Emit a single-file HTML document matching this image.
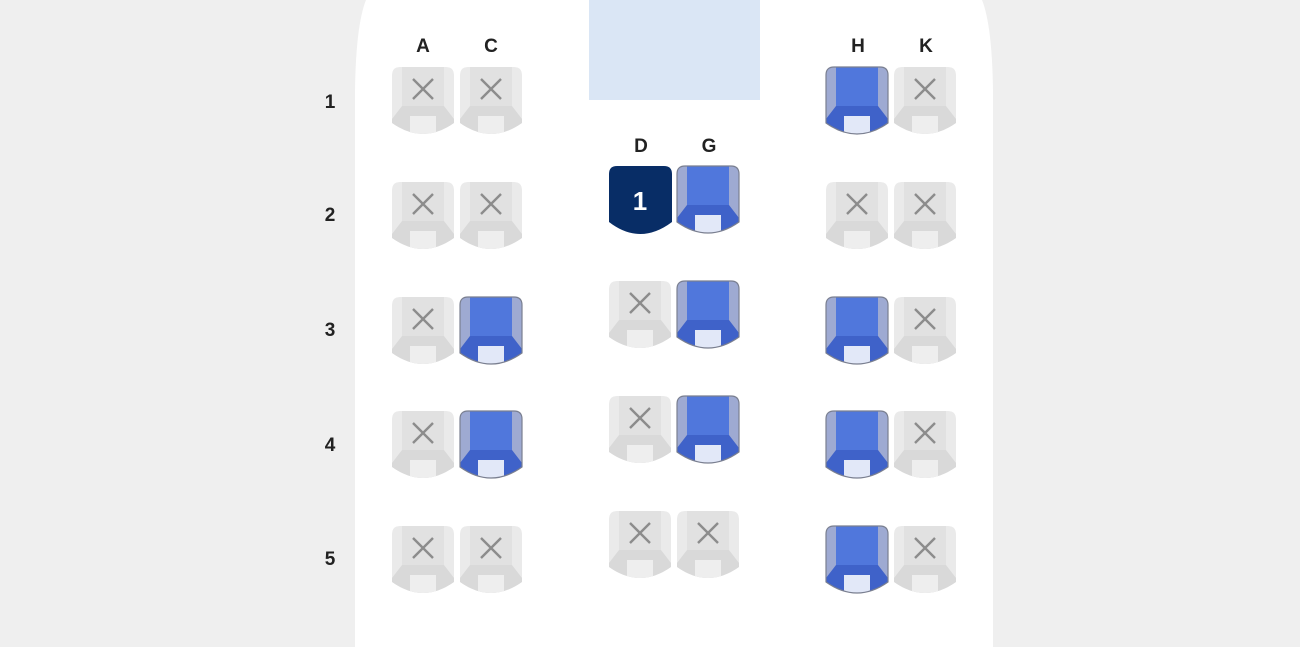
<!DOCTYPE html>
<html><head><meta charset="utf-8"><style>
html,body{margin:0;padding:0;}
body{width:1300px;height:647px;background:#efefef;position:relative;overflow:hidden;font-family:"Liberation Sans",sans-serif;}
</style></head><body>
<svg width="1300" height="647" viewBox="0 0 1300 647" style="position:absolute;left:0;top:0">
<defs>
<clipPath id="cp"><path d="M0,8 Q0,0 8,0 H54 Q62,0 62,8 V56 Q31,78 0,56 Z"/></clipPath>
<g id="u">
 <g clip-path="url(#cp)">
  <path d="M0,8 Q0,0 8,0 H54 Q62,0 62,8 V56 Q31,78 0,56 Z" fill="#eaeaea"/>
  <rect x="10" y="0" width="42" height="39" fill="#e1e1e1"/>
  <polygon points="10,39 52,39 62,52 62,72 0,72 0,52" fill="#d9d9d9"/>
  <rect x="18" y="49" width="26" height="23" fill="#eeeeee"/>
 </g>
 <path d="M21,12 L41,32 M41,12 L21,32" stroke="#8c8c8c" stroke-width="2.4"/>
</g>
<g id="a">
 <g clip-path="url(#cp)">
  <path d="M0,8 Q0,0 8,0 H54 Q62,0 62,8 V56 Q31,78 0,56 Z" fill="#9eaad2"/>
  <rect x="10" y="0" width="42" height="39" fill="#5077dc"/>
  <polygon points="10,39 52,39 62,52 62,72 0,72 0,52" fill="#3f62c9"/>
  <rect x="18" y="49" width="26" height="23" fill="#e2e8f8"/>
 </g>
 <path d="M0,8 Q0,0 8,0 H54 Q62,0 62,8 V56 Q31,78 0,56 Z" fill="none" stroke="#7a7f90" stroke-width="1.2"/>
</g>
</defs>
<path d="M355,647 V90 Q356,25 366,0 H982 Q992,25 993,90 V647 Z" fill="#fff"/>
<rect x="589" y="0" width="171" height="100" fill="#dae6f5"/>
<g font-weight="bold" font-size="19" fill="#222" text-anchor="middle">
<text x="423" y="52">A</text><text x="491" y="52">C</text>
<text x="858" y="52">H</text><text x="926" y="52">K</text>
<text x="641" y="152">D</text><text x="709" y="152">G</text>
<text x="330" y="108">1</text><text x="330" y="221">2</text><text x="330" y="336">3</text><text x="330" y="451">4</text><text x="330" y="565">5</text>
</g>
<use href="#u" x="392" y="67"/><use href="#u" x="460" y="67"/><use href="#a" x="826" y="67"/><use href="#u" x="894" y="67"/>
<use href="#u" x="392" y="182"/><use href="#u" x="460" y="182"/><use href="#u" x="826" y="182"/><use href="#u" x="894" y="182"/>
<use href="#u" x="392" y="297"/><use href="#a" x="460" y="297"/><use href="#a" x="826" y="297"/><use href="#u" x="894" y="297"/>
<use href="#u" x="392" y="411"/><use href="#a" x="460" y="411"/><use href="#a" x="826" y="411"/><use href="#u" x="894" y="411"/>
<use href="#u" x="392" y="526"/><use href="#u" x="460" y="526"/><use href="#a" x="826" y="526"/><use href="#u" x="894" y="526"/>
<path d="M609,174 Q609,166 617,166 H664 Q672,166 672,174 V222 Q640,246 609,222 Z" fill="#082d66"/>
<text x="640" y="210" font-size="26" font-weight="bold" fill="#fff" text-anchor="middle">1</text>
<use href="#a" x="677" y="166"/>
<use href="#u" x="609" y="281"/><use href="#a" x="677" y="281"/>
<use href="#u" x="609" y="396"/><use href="#a" x="677" y="396"/>
<use href="#u" x="609" y="511"/><use href="#u" x="677" y="511"/>
</svg>
</body></html>
